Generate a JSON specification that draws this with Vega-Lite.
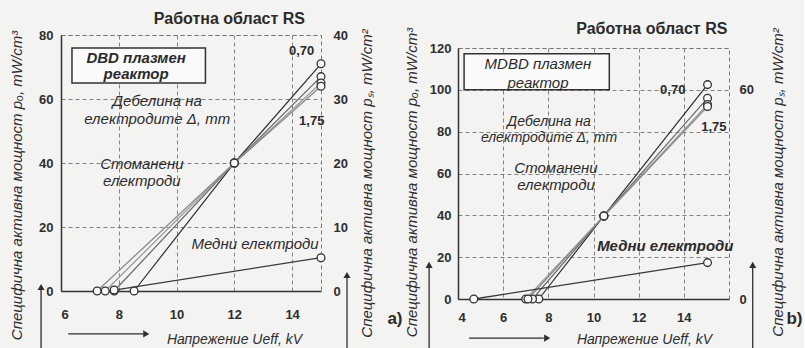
{
  "$schema": "https://vega.github.io/schema/vega-lite/v6.json",
  "background": "#f3f3f2",
  "padding": {"left": 8, "top": 10, "right": 0, "bottom": 0},
  "bounds": "flush",
  "spacing": 137,
  "config": {
    "font": "Liberation Sans",
    "view": {"stroke": "#777", "strokeDash": [4, 3], "strokeWidth": 1},
    "axis": {
      "labelFont": "Liberation Sans", "labelFontWeight": "bold", "labelFontSize": 13, "labelColor": "#2e2e2e",
      "titleFont": "Liberation Sans", "titleFontWeight": "normal", "titleFontStyle": "italic", "titleFontSize": 15, "titleColor": "#2e2e2e",
      "ticks": false, "domainColor": "#333", "domainWidth": 1.5,
      "gridColor": "#777", "gridDash": [4, 3], "gridWidth": 1, "gridOpacity": 0.9
    },
    "text": {"font": "Liberation Sans", "color": "#2b2b2b"}
  },
  "datasets": {
    "one": [{}],
    "a": [
      {"s": "steel 0.70", "U": 8.53, "p": 0}, {"s": "steel 0.70", "U": 12, "p": 40}, {"s": "steel 0.70", "U": 15, "p": 71},
      {"s": "steel 1.00", "U": 7.84, "p": 0}, {"s": "steel 1.00", "U": 12, "p": 40}, {"s": "steel 1.00", "U": 15, "p": 67},
      {"s": "steel 1.25", "U": 7.53, "p": 0}, {"s": "steel 1.25", "U": 12, "p": 40}, {"s": "steel 1.25", "U": 15, "p": 65},
      {"s": "steel 1.75", "U": 7.25, "p": 0}, {"s": "steel 1.75", "U": 12, "p": 40}, {"s": "steel 1.75", "U": 15, "p": 64},
      {"s": "copper", "U": 7.84, "p": 0.3}, {"s": "copper", "U": 15, "p": 10.4}
    ],
    "b": [
      {"s": "steel 0.70", "U": 7.58, "p": 0}, {"s": "steel 0.70", "U": 10.46, "p": 39.7}, {"s": "steel 0.70", "U": 15.05, "p": 102.5},
      {"s": "steel 1.00", "U": 7.3, "p": 0}, {"s": "steel 1.00", "U": 10.46, "p": 39.7}, {"s": "steel 1.00", "U": 15.05, "p": 96},
      {"s": "steel 1.25", "U": 7.0, "p": 0}, {"s": "steel 1.25", "U": 10.46, "p": 39.7}, {"s": "steel 1.25", "U": 15.05, "p": 93},
      {"s": "steel 1.75", "U": 7.1, "p": 0}, {"s": "steel 1.75", "U": 10.46, "p": 39.7}, {"s": "steel 1.75", "U": 15.05, "p": 92},
      {"s": "copper", "U": 4.7, "p": 0}, {"s": "copper", "U": 15.05, "p": 17.4}
    ]
  },
  "hconcat": [
    {
      "width": 260, "height": 256,
      "layer": [
        {
          "data": {"name": "one"},
          "layer": [
            {
              "data": {"name": "a"},
              "mark": {"type": "line"},
              "encoding": {
                "x": {"field": "U", "type": "quantitative", "scale": {"domain": [6, 15], "nice": false, "zero": false},
                  "axis": {"values": [6, 8, 10, 12, 14], "labelPadding": 17, "title": "Напрежение Ueff, kV", "titleFontSize": 14, "titleX": 173, "titleY": 48, "titleBaseline": "middle"}},
                "y": {"field": "p", "type": "quantitative", "scale": {"domain": [0, 80], "nice": false},
                  "axis": {"values": [0, 10, 20, 30, 40, 50, 60, 70, 80], "labelExpr": "datum.value % 20 == 0 ? datum.label : ''", "labelPadding": 8,
                    "title": "Специфична активна мощност pₒ, mW/cm³", "titleX": -45, "titleY": 150, "titleAngle": -90, "titleAlign": "center", "titleBaseline": "middle"}},
                "detail": {"field": "s"},
                "color": {"field": "s", "type": "nominal", "legend": null,
                  "scale": {"domain": ["steel 0.70", "steel 1.00", "steel 1.25", "steel 1.75", "copper"], "range": ["#2e2e2e", "#6a6a6a", "#9a9a9a", "#8a8a8a", "#3a3a3a"]}},
                "strokeWidth": {"field": "s", "type": "nominal", "legend": null,
                  "scale": {"domain": ["steel 0.70", "steel 1.00", "steel 1.25", "steel 1.75", "copper"], "range": [1.2, 1.3, 2.6, 2.4, 1]}}
              }
            },
            {
              "data": {"name": "a"},
              "mark": {"type": "circle", "fill": "#f8f8f8", "stroke": "#333", "strokeWidth": 1.3, "size": 60, "opacity": 1},
              "encoding": {"x": {"field": "U", "type": "quantitative"}, "y": {"field": "p", "type": "quantitative"}}
            },
            {
              "mark": {"type": "rect", "fill": "#fafafa", "stroke": "#333", "strokeWidth": 1.5},
              "encoding": {"x": {"datum": 6.38}, "x2": {"datum": 11.0}, "y": {"datum": 75.9}, "y2": {"datum": 65}}
            },
            {
              "mark": {"type": "text", "text": ["DBD плазмен", "реактор"], "fontSize": 15, "fontWeight": "bold", "fontStyle": "italic", "lineHeight": 16, "align": "center", "baseline": "middle"},
              "encoding": {"x": {"datum": 8.6}, "y": {"datum": 72.8}}
            },
            {
              "mark": {"type": "text", "text": ["Дебелина на", "електродите Δ, mm"], "fontSize": 15, "fontStyle": "italic", "lineHeight": 18, "align": "center", "baseline": "middle"},
              "encoding": {"x": {"datum": 9.33}, "y": {"datum": 59.4}}
            },
            {
              "mark": {"type": "text", "text": ["Стоманени", "електроди"], "fontSize": 15, "fontStyle": "italic", "lineHeight": 17, "align": "center", "baseline": "middle"},
              "encoding": {"x": {"datum": 8.8}, "y": {"datum": 39.7}}
            },
            {
              "mark": {"type": "text", "text": "Медни електроди", "fontSize": 15, "fontStyle": "italic", "align": "right", "baseline": "middle"},
              "encoding": {"x": {"datum": 14.92}, "y": {"datum": 14.7}}
            },
            {
              "mark": {"type": "text", "text": "0,70", "fontSize": 13, "fontWeight": "bold", "align": "center", "baseline": "middle"},
              "encoding": {"x": {"datum": 14.33}, "y": {"datum": 75}}
            },
            {
              "mark": {"type": "text", "text": "1,75", "fontSize": 13, "fontWeight": "bold", "align": "center", "baseline": "middle"},
              "encoding": {"x": {"datum": 14.68}, "y": {"datum": 53.1}}
            },
            {
              "mark": {"type": "text", "text": "Работна област RS", "fontSize": 16, "fontWeight": "bold", "align": "center", "baseline": "middle"},
              "encoding": {"x": {"datum": 11.83}, "y": {"datum": 85}}
            },
            {
              "mark": {"type": "text", "text": "a)", "fontSize": 17, "fontWeight": "bold", "align": "center", "baseline": "middle"},
              "encoding": {"x": {"datum": 17.56}, "y": {"datum": -8.75}}
            },
            {
              "mark": {"type": "rule", "color": "#2e2e2e", "strokeWidth": 1.3},
              "encoding": {"x": {"datum": 6.25}, "x2": {"datum": 8.85}, "y": {"datum": -13.4}}
            },
            {
              "mark": {"type": "point", "shape": "triangle-right", "filled": true, "color": "#2e2e2e", "size": 50, "opacity": 1},
              "encoding": {"x": {"datum": 8.95}, "y": {"datum": -13.4}}
            },
            {
              "mark": {"type": "rule", "color": "#2e2e2e", "strokeWidth": 1.3},
              "encoding": {"x": {"datum": 5.31}, "y": {"datum": -18}, "y2": {"datum": 0.5}}
            },
            {
              "mark": {"type": "point", "shape": "triangle-up", "filled": true, "color": "#2e2e2e", "size": 50, "opacity": 1},
              "encoding": {"x": {"datum": 5.31}, "y": {"datum": 1.25}}
            },
            {
              "mark": {"type": "rule", "color": "#2e2e2e", "strokeWidth": 1.3},
              "encoding": {"x": {"datum": 15.9}, "y": {"datum": -18}, "y2": {"datum": 4.2}}
            },
            {
              "mark": {"type": "point", "shape": "triangle-up", "filled": true, "color": "#2e2e2e", "size": 50, "opacity": 1},
              "encoding": {"x": {"datum": 15.9}, "y": {"datum": 5}}
            }
          ]
        },
        {
          "data": {"name": "one"},
          "mark": {"type": "rule", "opacity": 0},
          "encoding": {
            "y": {"datum": 0, "type": "quantitative", "scale": {"domain": [0, 40], "nice": false},
              "axis": {"orient": "right", "values": [0, 10, 20, 30, 40], "grid": false, "domain": false, "labelPadding": 12,
                "title": "Специфична активна мощност pₛ, mW/cm²", "titleX": 45, "titleY": 148, "titleAngle": -90, "titleAlign": "center", "titleBaseline": "middle"}}
          }
        }
      ],
      "resolve": {"scale": {"y": "independent"}}
    },
    {
      "vconcat": [
        {"width": 271, "height": 1, "view": {"stroke": null}, "data": {"name": "one"}, "mark": {"type": "point", "opacity": 0}, "encoding": {}},
        {
          "width": 271, "height": 251,
          "layer": [
            {
              "data": {"name": "one"},
              "layer": [
                {
                  "data": {"name": "b"},
                  "mark": {"type": "line"},
                  "encoding": {
                    "x": {"field": "U", "type": "quantitative", "scale": {"domain": [4, 16], "nice": false, "zero": false},
                      "axis": {"values": [4, 6, 8, 10, 12, 14], "labelPadding": 12, "title": "Напрежение Ueff, kV", "titleFontSize": 14, "titleX": 186, "titleY": 40, "titleBaseline": "middle"}},
                    "y": {"field": "p", "type": "quantitative", "scale": {"domain": [0, 120], "nice": false},
                      "axis": {"values": [0, 20, 40, 60, 80, 100, 120], "labelPadding": 7,
                        "title": "Специфична активна мощност pₒ, mW/cm³", "titleX": -47, "titleY": 134, "titleAngle": -90, "titleAlign": "center", "titleBaseline": "middle"}},
                    "detail": {"field": "s"},
                    "color": {"field": "s", "type": "nominal", "legend": null,
                      "scale": {"domain": ["steel 0.70", "steel 1.00", "steel 1.25", "steel 1.75", "copper"], "range": ["#2a2a2a", "#555555", "#9a9a9a", "#8a8a8a", "#3a3a3a"]}},
                    "strokeWidth": {"field": "s", "type": "nominal", "legend": null,
                      "scale": {"domain": ["steel 0.70", "steel 1.00", "steel 1.25", "steel 1.75", "copper"], "range": [1.3, 1.3, 2.6, 2.4, 1]}}
                  }
                },
                {
                  "data": {"name": "b"},
                  "mark": {"type": "circle", "fill": "#f8f8f8", "stroke": "#333", "strokeWidth": 1.3, "size": 60, "opacity": 1},
                  "encoding": {"x": {"field": "U", "type": "quantitative"}, "y": {"field": "p", "type": "quantitative"}}
                },
                {
                  "mark": {"type": "rect", "fill": "#fafafa", "stroke": "#333", "strokeWidth": 1.5},
                  "encoding": {"x": {"datum": 4.27}, "x2": {"datum": 10.7}, "y": {"datum": 117.2}, "y2": {"datum": 100}}
                },
                {
                  "mark": {"type": "text", "text": ["MDBD плазмен", "реактор"], "fontSize": 15, "fontStyle": "italic", "lineHeight": 19, "align": "center", "baseline": "middle"},
                  "encoding": {"x": {"datum": 7.54}, "y": {"datum": 112.4}}
                },
                {
                  "mark": {"type": "text", "text": ["Дебелина на", "електродите Δ, mm"], "fontSize": 14, "fontStyle": "italic", "lineHeight": 16, "align": "center", "baseline": "middle"},
                  "encoding": {"x": {"datum": 8.03}, "y": {"datum": 84.4}}
                },
                {
                  "mark": {"type": "text", "text": ["Стоманени", "електроди"], "fontSize": 15, "fontStyle": "italic", "lineHeight": 17, "align": "center", "baseline": "middle"},
                  "encoding": {"x": {"datum": 8.34}, "y": {"datum": 62.7}}
                },
                {
                  "mark": {"type": "text", "text": "Медни електроди", "fontSize": 15, "fontWeight": "bold", "fontStyle": "italic", "align": "right", "baseline": "middle"},
                  "encoding": {"x": {"datum": 16.2}, "y": {"datum": 25.4}}
                },
                {
                  "mark": {"type": "text", "text": "0,70", "fontSize": 13, "fontWeight": "bold", "align": "center", "baseline": "middle"},
                  "encoding": {"x": {"datum": 13.51}, "y": {"datum": 100}}
                },
                {
                  "mark": {"type": "text", "text": "1,75", "fontSize": 13, "fontWeight": "bold", "align": "center", "baseline": "middle"},
                  "encoding": {"x": {"datum": 15.33}, "y": {"datum": 82.3}}
                },
                {
                  "mark": {"type": "text", "text": "Работна област RS", "fontSize": 16, "fontWeight": "bold", "align": "center", "baseline": "middle"},
                  "encoding": {"x": {"datum": 12.58}, "y": {"datum": 129.2}}
                },
                {
                  "mark": {"type": "text", "text": "b)", "fontSize": 17, "fontWeight": "bold", "align": "center", "baseline": "middle"},
                  "encoding": {"x": {"datum": 18.9}, "y": {"datum": -9.6}}
                },
                {
                  "mark": {"type": "rule", "color": "#2e2e2e", "strokeWidth": 1.3},
                  "encoding": {"x": {"datum": 4.49}, "x2": {"datum": 7.8}, "y": {"datum": -18.7}}
                },
                {
                  "mark": {"type": "point", "shape": "triangle-right", "filled": true, "color": "#2e2e2e", "size": 50, "opacity": 1},
                  "encoding": {"x": {"datum": 7.95}, "y": {"datum": -18.7}}
                },
                {
                  "mark": {"type": "rule", "color": "#2e2e2e", "strokeWidth": 1.3},
                  "encoding": {"x": {"datum": 2.72}, "y": {"datum": -23.5}, "y2": {"datum": 15.5}}
                },
                {
                  "mark": {"type": "point", "shape": "triangle-up", "filled": true, "color": "#2e2e2e", "size": 50, "opacity": 1},
                  "encoding": {"x": {"datum": 2.72}, "y": {"datum": 16.3}}
                },
                {
                  "mark": {"type": "rule", "color": "#2e2e2e", "strokeWidth": 1.3},
                  "encoding": {"x": {"datum": 17.05}, "y": {"datum": -23.5}, "y2": {"datum": 15.5}}
                },
                {
                  "mark": {"type": "point", "shape": "triangle-up", "filled": true, "color": "#2e2e2e", "size": 50, "opacity": 1},
                  "encoding": {"x": {"datum": 17.05}, "y": {"datum": 16.3}}
                }
              ]
            },
            {
              "data": {"name": "one"},
              "mark": {"type": "rule", "opacity": 0},
              "encoding": {
                "y": {"datum": 0, "type": "quantitative", "scale": {"domain": [0, 72], "nice": false},
                  "axis": {"orient": "right", "values": [0, 60], "grid": false, "domain": false, "labelPadding": 10,
                    "title": "Специфична активна мощност pₛ, mW/cm²", "titleX": 48, "titleY": 134, "titleAngle": -90, "titleAlign": "center", "titleBaseline": "middle"}}
              }
            }
          ],
          "resolve": {"scale": {"y": "independent"}}
        }
      ],
      "spacing": 12,
      "bounds": "flush"
    }
  ]
}
